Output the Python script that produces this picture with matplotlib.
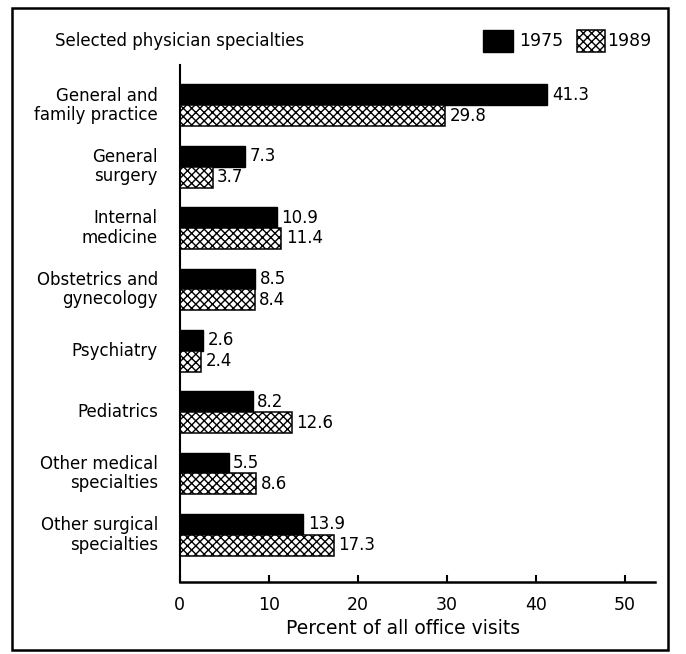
import matplotlib
matplotlib.use('Agg')
import matplotlib.pyplot as plt
import matplotlib.transforms as mtransforms
from matplotlib.patches import Rectangle
import numpy as np

plt.rcParams['font.family'] = ['DejaVu Sans']
plt.rcParams['hatch.linewidth'] = 1.0

specialties = ['General and\nfamily practice', 'General\nsurgery', 'Internal\nmedicine',
               'Obstetrics and\ngynecology', 'Psychiatry', 'Pediatrics',
               'Other medical\nspecialties', 'Other surgical\nspecialties']
v1975 = [41.3, 7.3, 10.9, 8.5, 2.6, 8.2, 5.5, 13.9]
v1989 = [29.8, 3.7, 11.4, 8.4, 2.4, 12.6, 8.6, 17.3]
xticks = [0, 10, 20, 30, 40, 50]

fs = 12
fig = plt.figure(figsize=(6.86, 6.54), dpi=100)
ax = fig.add_axes([0.262, 0.110, 0.693, 0.790])

y = np.arange(len(specialties))
h = 0.34
ax.barh(y - h/2, v1975, height=h, color='black', edgecolor='black')
ax.barh(y + h/2, v1989, height=h, color='white', edgecolor='black', hatch='xxxx', linewidth=1.1)

for yi, a, b in zip(y, v1975, v1989):
    ax.text(a + 0.5, yi - h/2, f'{a:.1f}', va='center', ha='left', fontsize=fs)
    ax.text(b + 0.5, yi + h/2, f'{b:.1f}', va='center', ha='left', fontsize=fs)

# category names, right aligned left of the axis
trans = mtransforms.blended_transform_factory(ax.transAxes, ax.transData)
for yi, lab in zip(y, specialties):
    ax.text(-0.046, yi, lab, ha='right', va='center', multialignment='right',
            fontsize=fs, transform=trans, linespacing=1.1)

ax.set_xlim(0, 53.4)
ax.set_ylim(len(specialties) - 1 + 0.77, -0.65)
ax.set_xticks(xticks)
ax.set_xticklabels([str(t) for t in xticks], fontsize=12.5)
ax.set_yticks([])
ax.tick_params(axis='x', direction='in', length=5, width=1.5, pad=10)
for s in ['top', 'right']:
    ax.spines[s].set_visible(False)
ax.spines['left'].set_linewidth(1.5)
ax.spines['bottom'].set_linewidth(1.8)

fig.text(403/686, 1 - 628/654, 'Percent of all office visits', ha='center', va='center', fontsize=13.5)
fig.text(55/686, 1 - 41/654, 'Selected physician specialties', ha='left', va='center', fontsize=fs)

# legend
fig.patches.append(Rectangle((483/686, 1 - 52/654), 30/686, 22/654, transform=fig.transFigure,
                             facecolor='black', edgecolor='black'))
fig.text(519/686, 1 - 41/654, '1975', ha='left', va='center', fontsize=12.5)
fig.patches.append(Rectangle((577/686, 1 - 52/654), 28/686, 22/654, transform=fig.transFigure,
                             facecolor='white', edgecolor='black', hatch='xxxx', linewidth=1.1))
fig.text(607/686, 1 - 41/654, '1989', ha='left', va='center', fontsize=12.5)

# outer frame
fig.patches.append(Rectangle((12/686, 1 - 650/654), 656/686, 642/654, transform=fig.transFigure,
                             facecolor='none', edgecolor='black', linewidth=1.8))

fig.savefig('out.png', dpi=100)
